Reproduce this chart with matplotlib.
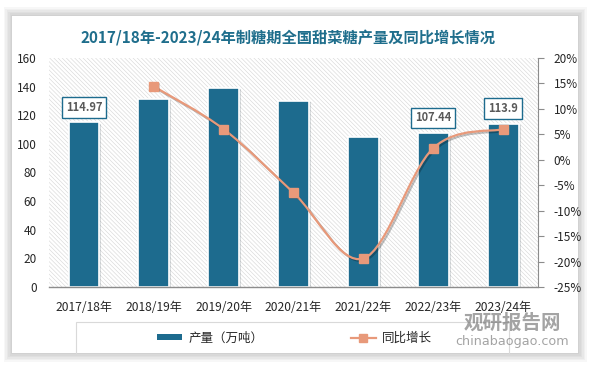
import numpy as np
import matplotlib
matplotlib.use('Agg')
import matplotlib.pyplot as plt
from matplotlib.patches import Rectangle, PathPatch
from matplotlib.path import Path
from matplotlib.lines import Line2D
import matplotlib.patheffects as pe

plt.rcParams['font.family'] = ['Noto Sans CJK SC', 'DejaVu Sans']
plt.rcParams['hatch.linewidth'] = 0.45

# Data
seasons = ['2017/18年', '2018/19年', '2019/20年', '2020/21年', '2021/22年', '2022/23年', '2023/24年']
output = [114.97, 131.4, 139.3, 130.2, 105.0, 107.44, 113.9]
growth = [None, 14.4, 6.0, -6.5, -19.4, 2.3, 6.0]
labelled = {0: '114.97', 5: '107.44', 6: '113.9'}

bar_color = '#1d6b8e'
line_color = '#e8997a'
title_color = '#1f6e8c'

fig = plt.figure(figsize=(5.94, 3.66), dpi=100)
fig.patch.set_facecolor('white')

# card with soft shadow
cx0, cy0, cx1, cy1 = 0.021, 0.036, 0.973, 0.956
for k in range(6, 0, -1):
    d = k * 0.004
    fig.patches.append(Rectangle((cx0 - d * 0.62, cy0 - d), (cx1 - cx0) + 2 * d * 0.62, (cy1 - cy0) + 2 * d,
                                 transform=fig.transFigure, facecolor='#000000', alpha=0.03,
                                 edgecolor='none', zorder=-3))
fig.patches.append(Rectangle((cx0, cy0), cx1 - cx0, cy1 - cy0, transform=fig.transFigure,
                             facecolor='white', edgecolor='none', zorder=-2))

ax = fig.add_axes([0.0825, 0.216, 0.8235, 0.6255])
ax.set_facecolor('none')
x = np.arange(len(seasons))

# hatched plot area
ax.add_patch(Rectangle((0, 0), 1, 1, transform=ax.transAxes, facecolor='white',
                       edgecolor='#d9d9d9', hatch='\\' * 8, lw=0, zorder=0))

bars = ax.bar(x, output, width=0.44, color=bar_color, edgecolor='white', linewidth=1.2, zorder=2,
              path_effects=[pe.SimplePatchShadow(offset=(1.5, -1), alpha=0.15), pe.Normal()])

for i, txt in labelled.items():
    ax.annotate(txt, (x[i], output[i]), xytext=(0, 11), textcoords='offset points',
                ha='center', va='center', fontsize=8, fontweight='bold', color='#595959', zorder=5,
                bbox=dict(boxstyle='square,pad=0.35', fc='white', ec=bar_color, lw=1.0))

ax.set_xlim(-0.5, len(seasons) - 0.5)
ax.set_ylim(0, 160)
ax.set_yticks(np.arange(0, 161, 20))
ax.set_xticks(x)
ax.set_xticklabels(seasons)
ax.tick_params(axis='y', length=0, labelsize=8.5, colors='#262626', pad=9)
ax.tick_params(axis='x', length=0, labelsize=8.7, colors='#262626', pad=10)
for s in ['top', 'left', 'right']:
    ax.spines[s].set_visible(False)
ax.spines['bottom'].set_color('#8c8c8c')
ax.spines['bottom'].set_linewidth(1.0)

# growth line on right axis
ax2 = ax.twinx()
ax2.set_ylim(-25, 20)
ax2.set_yticks(np.arange(-25, 21, 5))
ax2.set_yticklabels([f'{v}%' for v in range(-25, 21, 5)])
ax2.tick_params(axis='y', direction='out', length=4, width=0.8, color='#8c8c8c',
                labelsize=8.5, labelcolor='#262626', pad=7)
for s in ['top', 'left', 'bottom']:
    ax2.spines[s].set_visible(False)
ax2.spines['right'].set_color('#8c8c8c')

gx = np.array([x[i] for i, g in enumerate(growth) if g is not None], dtype=float)
gy = np.array([g for g in growth if g is not None], dtype=float)

# smoothed curve (Excel-style bezier through the points)
pts = np.column_stack([gx, gy])
verts = [pts[0]]
codes = [Path.MOVETO]
n = len(pts)
for i in range(n - 1):
    p0 = pts[i - 1] if i > 0 else pts[i]
    p1, p2 = pts[i], pts[i + 1]
    p3 = pts[i + 2] if i + 2 < n else pts[i + 1]
    c1 = p1 + (p2 - p0) / 6.0
    c2 = p2 - (p3 - p1) / 6.0
    verts += [c1, c2, p2]
    codes += [Path.CURVE4] * 3
curve = PathPatch(Path(verts, codes), facecolor='none', edgecolor=line_color, lw=1.6, zorder=3,
                  path_effects=[pe.SimpleLineShadow(offset=(1.2, -1.2), alpha=0.25), pe.Normal()])
ax2.add_patch(curve)
ax2.plot(gx, gy, linestyle='none', marker='s', markersize=6.5, color=line_color, zorder=4,
         path_effects=[pe.SimplePatchShadow(offset=(1, -1), alpha=0.2), pe.Normal()])

# title
fig.text(0.485, 0.898, '2017/18年-2023/24年制糖期全国甜菜糖产量及同比增长情况', ha='center', va='center',
         fontsize=11, fontweight='bold', color=title_color)

# legend
fig.patches.append(Rectangle((76 / 594, 1 - 354 / 366), (509 - 76) / 594, 32 / 366,
                             transform=fig.transFigure, facecolor='none', edgecolor='#d9d9d9',
                             lw=0.8, zorder=1))
handles = [Rectangle((0, 0), 1, 1, facecolor=bar_color, edgecolor='none'),
           Line2D([], [], color=line_color, lw=1.6, marker='s', markersize=6)]
fig.legend(handles, ['产量（万吨）', '同比增长'], loc='center', bbox_to_anchor=(0.496, 1 - 338 / 366),
           ncol=2, frameon=False, fontsize=9, handlelength=2.0, handleheight=0.45,
           handletextpad=0.5, columnspacing=7.0, labelcolor='#262626')

# watermark
fig.text(0.862, 1 - 323 / 366, '观研报告网', ha='center', va='center', fontsize=14,
         fontweight='bold', color='#737373', alpha=0.65, zorder=10)
fig.text(0.862, 1 - 341 / 366, 'chinabaogao.com', ha='center', va='center', fontsize=9.2,
         color='#737373', alpha=0.65, zorder=10, family='DejaVu Sans')

fig.savefig('out.png', dpi=100)
